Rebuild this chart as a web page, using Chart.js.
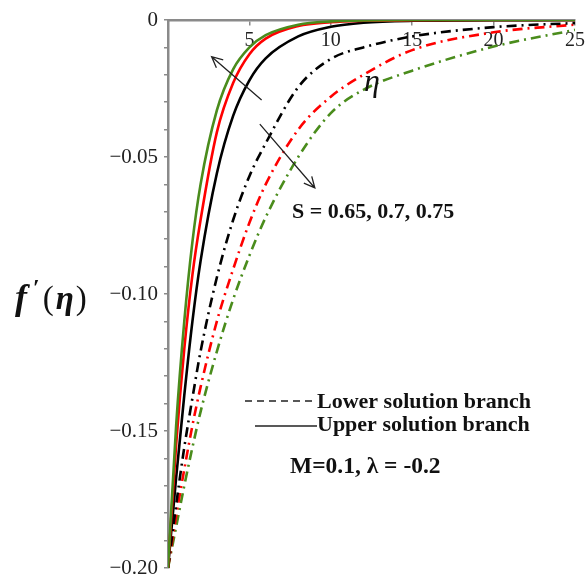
<!DOCTYPE html>
<html>
<head>
<meta charset="utf-8">
<script src="https://cdn.jsdelivr.net/npm/chart.js@4/dist/chart.umd.min.js"></script>
<style>
  html, body { margin: 0; padding: 0; background: #fff; }
  #chart { display: block; }
</style>
</head>
<body>
<canvas id="chart" width="586" height="578"></canvas>
<script>
// eta grid shared by all curves
const eta = [0, 0.5, 1, 1.5, 2, 3, 4, 5, 6, 8, 10, 12, 15, 20, 25];

// upper solution branch (solid lines)
const upperS065 = [-0.2, -0.167, -0.137, -0.110, -0.088, -0.056, -0.035, -0.022, -0.014, -0.006, -0.0025, -0.001, -0.0003, -0.0001, 0];
const upperS070 = [-0.2, -0.155, -0.120, -0.093, -0.073, -0.041, -0.023, -0.0125, -0.0068, -0.0022, -0.0008, -0.0003, -0.0001, 0, 0];
const upperS075 = [-0.2, -0.148, -0.110, -0.081, -0.060, -0.033, -0.018, -0.010, -0.0055, -0.0017, -0.0005, -0.0002, 0, 0, 0];

// lower solution branch (dash-dot lines)
const lowerS065 = [-0.2, -0.177, -0.156, -0.138, -0.121, -0.094, -0.073, -0.057, -0.045, -0.0245, -0.0142, -0.0100, -0.0060, -0.0026, -0.0011];
const lowerS070 = [-0.2, -0.181, -0.164, -0.148, -0.134, -0.110, -0.091, -0.074, -0.060, -0.040, -0.028, -0.020, -0.011, -0.0045, -0.0017];
const lowerS075 = [-0.2, -0.185, -0.170, -0.156, -0.143, -0.121, -0.102, -0.086, -0.072, -0.050, -0.034, -0.0255, -0.0185, -0.0097, -0.0036];

const GREEN = '#4a8c1c';
const RED = '#ff0000';
const BLACK = '#000000';
const AXIS = '#8a8a8a';
const SERIF = "'Liberation Serif', 'DejaVu Serif', serif";

const toPts = vals => eta.map((x, i) => ({ x: x, y: vals[i] }));

function curve(vals, color, dashed) {
  return {
    data: toPts(vals),
    borderColor: color,
    borderWidth: 2.6,
    borderDash: dashed ? [10, 5, 2, 5] : [],
    pointRadius: 0,
    fill: false,
    cubicInterpolationMode: 'monotone'
  };
}

// annotation arrows, in data coords
const arrowUpper = { from: [5.75, -0.0292], to: [2.68, -0.0134] };
const arrowLower = { from: [5.64, -0.038], to: [9.02, -0.0613] };

const annotations = {
  id: 'annotations',
  afterDraw(chart) {
    const ctx = chart.ctx;
    const xs = chart.scales.x, ys = chart.scales.y;
    const px = v => xs.getPixelForValue(v), py = v => ys.getPixelForValue(v);

    ctx.save();
    // arrows
    ctx.strokeStyle = '#222';
    ctx.lineWidth = 1.3;
    ctx.setLineDash([]);
    [arrowUpper, arrowLower].forEach(a => {
      const x1 = px(a.from[0]), y1 = py(a.from[1]);
      const x2 = px(a.to[0]), y2 = py(a.to[1]);
      const ang = Math.atan2(y2 - y1, x2 - x1);
      ctx.beginPath();
      ctx.moveTo(x1, y1);
      ctx.lineTo(x2, y2);
      ctx.moveTo(x2 - 12 * Math.cos(ang - 0.45), y2 - 12 * Math.sin(ang - 0.45));
      ctx.lineTo(x2, y2);
      ctx.lineTo(x2 - 12 * Math.cos(ang + 0.45), y2 - 12 * Math.sin(ang + 0.45));
      ctx.stroke();
    });

    ctx.fillStyle = '#111';
    ctx.textBaseline = 'alphabetic';
    ctx.textAlign = 'left';

    // eta label near the top axis
    ctx.font = 'italic 32px ' + SERIF;
    ctx.fillText('η', 364, 91);

    // parameter S
    ctx.font = 'bold 22px ' + SERIF;
    ctx.fillText('S = 0.65, 0.7, 0.75', 292, 218);

    // legend
    ctx.lineWidth = 1.6;
    ctx.strokeStyle = '#222';
    ctx.setLineDash([7, 5]);
    ctx.beginPath(); ctx.moveTo(245, 401); ctx.lineTo(317, 401); ctx.stroke();
    ctx.setLineDash([]);
    ctx.beginPath(); ctx.moveTo(255, 426); ctx.lineTo(317, 426); ctx.stroke();
    ctx.fillText('Lower solution branch', 317, 408);
    ctx.fillText('Upper solution branch', 317, 431);
    ctx.font = 'bold 23.5px ' + SERIF;
    ctx.fillText('M=0.1, λ = -0.2', 290, 473);

    // y axis title f'(eta)
    let x = 15;
    const yb = 309;
    ctx.font = 'bold italic 36px ' + SERIF;
    ctx.fillText('f', x, yb); x += ctx.measureText('f').width + 6;
    ctx.font = 'bold 24px ' + SERIF;
    ctx.fillText('′', x, yb - 14); x += ctx.measureText('′').width + 3;
    ctx.font = '33px ' + SERIF;
    ctx.fillText('(', x, yb); x += ctx.measureText('(').width + 2;
    ctx.font = 'bold italic 33px ' + SERIF;
    ctx.fillText('η', x, yb); x += ctx.measureText('η').width + 2;
    ctx.font = '33px ' + SERIF;
    ctx.fillText(')', x, yb);
    ctx.restore();
  }
};

const noPad = s => { s.paddingTop = 0; s.paddingBottom = 0; s.paddingLeft = 0; s.paddingRight = 0; };

new Chart(document.getElementById('chart'), {
  type: 'line',
  data: {
    datasets: [
      curve(upperS075, GREEN, false),
      curve(upperS070, RED, false),
      curve(upperS065, BLACK, false),
      curve(lowerS065, BLACK, true),
      curve(lowerS070, RED, true),
      curve(lowerS075, GREEN, true)
    ]
  },
  options: {
    responsive: false,
    animation: false,
    layout: { padding: { left: 0, top: 20, right: 11, bottom: 10 } },
    plugins: { legend: { display: false }, tooltip: { enabled: false } },
    scales: {
      x: {
        type: 'linear',
        min: 0, max: 25,
        position: { y: 0 },
        afterFit: s => { s.height = 0; noPad(s); },
        ticks: {
          stepSize: 5,
          maxRotation: 0,
          padding: 5,
          color: '#222',
          font: { family: SERIF, size: 20 },
          callback: v => (v === 0 ? '' : String(v))
        },
        grid: { drawOnChartArea: false, tickLength: 4, color: AXIS, lineWidth: 1.5 },
        border: { color: AXIS, width: 2.5 }
      },
      y: {
        type: 'linear',
        min: -0.2, max: 0,
        afterFit: s => { s.width = 168; noPad(s); },
        ticks: {
          stepSize: 0.01,
          autoSkip: false,
          padding: 6,
          color: '#222',
          font: { family: SERIF, size: 21 },
          callback: v => {
            const r = Math.round(v * 100);
            if (r % 5 !== 0) return '';
            return r === 0 ? '0' : '\u2212' + (Math.abs(r) / 100).toFixed(2);
          }
        },
        grid: { drawOnChartArea: false, tickLength: 4, color: AXIS, lineWidth: 1.5 },
        border: { color: AXIS, width: 2.5 }
      }
    }
  },
  plugins: [annotations]
});
</script>
</body>
</html>
